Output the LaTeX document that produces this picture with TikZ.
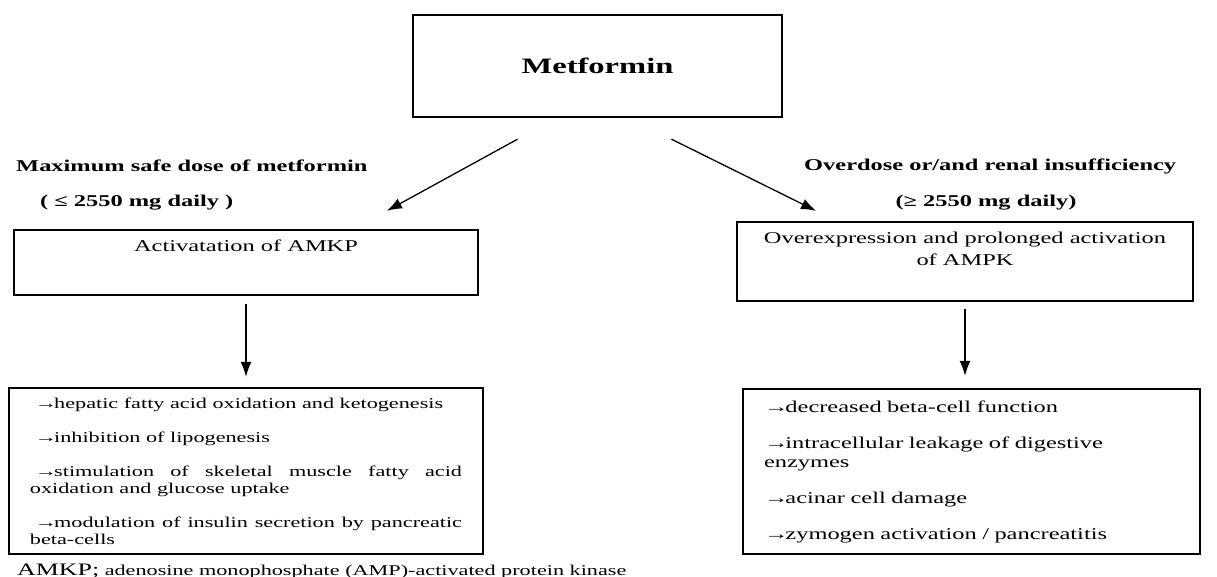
\documentclass[tikz,border=0pt]{standalone}
\usepackage{fontspec}
\setmainfont{Liberation Serif}[FakeStretch=1.48]
\usepackage{tikz}
\usetikzlibrary{arrows.meta,positioning}

\newcommand{\rarr}{→\kern-3pt}

\begin{document}
\begin{tikzpicture}[>={Latex[length=15pt,width=11pt]},x=1pt,y=-1pt,
	box/.style={draw,rectangle,line width=2.4pt,inner sep=0pt},
	head/.style={font=\fontsize{16.5}{19}\selectfont\bfseries,anchor=west,inner sep=0pt},
	txt/.style={font=\fontsize{16.5}{19}\selectfont,inner sep=0pt},
	link/.style={->,line width=1.3pt}]

	\useasboundingbox (0,0) rectangle (1217,577);

			\node[box,minimum width=369pt,minimum height=102pt,font=\fontsize{22}{26}\selectfont\bfseries] (met) at (597.5,66) {\raisebox{-8pt}{Metformin}};

			\node[head] (safe) at (16,166) {Maximum safe dose of metformin};
			\node[head] (low) at (40,203) {( ≤ 2550 mg daily )};
			\node[head] (over) at (804,166) {Overdose or/and renal insufficiency};
			\node[head,anchor=center] (high) at (986,203) {(≥ 2550 mg daily)};

			\node[box,minimum width=464pt,minimum height=65pt] (act) at (246,262.5) {};
			\node[txt] (actt) [below=11pt of act.north] {Activatation of AMKP};
			\node[box,minimum width=456pt,minimum height=79pt] (ovr) at (965,261.5) {};
			\node[txt,align=center,font=\fontsize{16.5}{22}\selectfont] (ovrt) [below=11pt of ovr.north] {Overexpression and prolonged activation\\of AMPK};

			\node[box,minimum width=474pt,minimum height=166pt,text width=432pt,align=justify,font=\fontsize{15}{17}\selectfont] (eff) at (246,471) {%
				\hspace*{5pt}\rarr hepatic fatty acid oxidation and ketogenesis\\[17pt]
				\hspace*{5pt}\rarr inhibition of lipogenesis\\[17pt]
				\hspace*{5pt}\rarr stimulation of skeletal muscle fatty acid\linebreak oxidation and glucose uptake\\[17pt]
				\hspace*{5pt}\rarr modulation of insulin secretion by pancreatic\linebreak beta-cells};
			\node[box,minimum width=457pt,minimum height=165pt,text width=415pt,align=left,font=\fontsize{16.5}{19}\selectfont] (effr) at (971.5,471.5) {%
				\rarr decreased beta-cell function\\[17pt]
				\rarr intracellular leakage of digestive\\enzymes\\[17pt]
				\rarr acinar cell damage\\[17pt]
				\rarr zymogen activation / pancreatitis};

			\node[anchor=west,inner sep=0pt,font=\fontsize{15}{17}\selectfont] (note) at (17,571) {{\fontsize{17.5}{20}\selectfont AMKP;} adenosine monophosphate (AMP)-activated protein kinase};

			\draw[link] ([xshift=-80pt,yshift=-21pt]met.south) -- ([xshift=141pt,yshift=18pt]act.north);
			\draw[link] ([xshift=74pt,yshift=-21pt]met.south) -- ([xshift=-149pt,yshift=10pt]ovr.north);
			\draw[link,shorten <=8pt,shorten >=10pt] (act) -- (eff);
			\draw[link,shorten <=7pt,shorten >=12pt] (ovr.south) -- (ovr.south |- effr.north);

\end{tikzpicture}
\end{document}
